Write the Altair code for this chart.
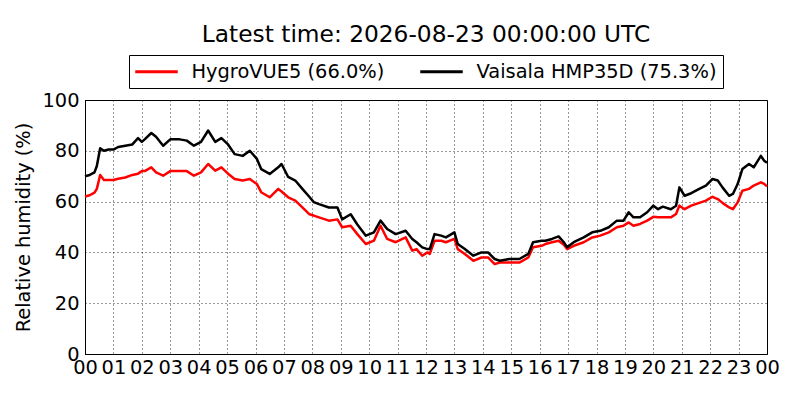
import altair as alt
import pandas as pd

# Time of each reading (UTC, HH:MM; 24:00 = end of day)
times = [
    "00:00", "00:10", "00:20", "00:25", "00:32", "00:40", "00:50", "01:00", "01:10", "01:25",
    "01:40", "01:52", "02:00", "02:06", "02:20", "02:30", "02:45", "03:00", "03:20", "03:35",
    "03:50", "04:05", "04:20", "04:35", "04:48", "05:02", "05:16", "05:33", "05:48", "06:03",
    "06:12", "06:30", "06:48", "06:55", "07:09", "07:24", "07:39", "07:54", "08:03", "08:14",
    "08:35", "08:53", "09:03", "09:21", "09:35", "09:53", "10:10", "10:24", "10:38", "10:56",
    "11:17", "11:31", "11:40", "11:52", "12:03", "12:08", "12:18", "12:32", "12:42", "13:00",
    "13:07", "13:22", "13:40", "13:57", "14:11", "14:25", "14:36", "14:56", "15:17", "15:36",
    "15:46", "16:04", "16:12", "16:26", "16:40", "16:51", "16:58", "17:12", "17:33", "17:51",
    "18:08", "18:26", "18:43", "18:57", "19:08", "19:18", "19:32", "19:47", "20:00", "20:10",
    "20:20", "20:37", "20:48", "20:55", "21:06", "21:20", "21:37", "21:51", "22:05", "22:16",
    "22:26", "22:40", "22:48", "22:58", "23:08", "23:22", "23:32", "23:47", "23:54", "24:00",
]

# Vaisala HMP35D relative humidity (%)
vaisala = [
    70.0, 70.5, 71.5, 74.0, 81.0, 80.0, 80.5, 80.5, 81.5, 82.0,
    82.5, 85.0, 83.5, 84.5, 87.0, 85.5, 82.0, 84.5, 84.5, 84.0,
    82.0, 83.5, 88.0, 83.5, 85.0, 82.5, 78.7, 78.0, 80.0, 76.8,
    72.8, 70.9, 73.5, 74.8, 69.7, 68.3, 65.0, 61.8, 59.8, 59.0,
    57.7, 57.7, 53.0, 55.0, 51.0, 46.6, 47.9, 52.5, 49.2, 47.2,
    48.5, 45.3, 44.0, 42.0, 41.3, 41.3, 47.2, 46.6, 45.9, 47.9,
    43.3, 41.3, 38.7, 40.0, 40.0, 37.4, 36.7, 37.4, 37.4, 39.4,
    44.0, 44.6, 44.6, 45.3, 46.3, 44.0, 42.0, 44.0, 45.9, 47.9,
    48.5, 49.9, 52.5, 52.5, 55.8, 53.8, 53.8, 55.8, 58.4, 57.0,
    58.0, 57.0, 58.4, 65.6, 62.3, 63.3, 65.0, 66.3, 68.9, 68.3,
    65.6, 62.3, 63.0, 66.9, 72.8, 74.8, 73.5, 78.0, 76.1, 75.3,
]

# HygroVUE5 relative humidity (%)
hygrovue = [
    62.0, 62.5, 63.5, 65.0, 70.5, 68.5, 68.5, 68.5, 69.0, 69.5,
    70.5, 71.0, 72.0, 72.0, 73.5, 71.5, 70.2, 72.0, 72.0, 72.0,
    70.2, 71.5, 74.8, 72.2, 73.5, 71.0, 68.9, 68.3, 68.9, 66.9,
    63.7, 61.7, 65.0, 64.0, 61.7, 60.4, 57.7, 55.0, 54.5, 53.8,
    52.5, 53.0, 49.9, 50.5, 47.2, 43.3, 44.6, 50.5, 45.3, 44.0,
    45.9, 40.7, 41.3, 38.7, 40.0, 39.4, 44.6, 44.6, 44.0, 45.3,
    41.3, 39.4, 36.7, 38.0, 38.0, 35.4, 36.0, 36.0, 36.0, 38.0,
    42.0, 42.6, 43.3, 44.0, 44.6, 43.0, 41.3, 42.6, 44.0, 45.9,
    46.6, 47.9, 49.9, 50.5, 51.8, 50.5, 51.2, 52.5, 54.0, 53.8,
    53.8, 53.8, 55.1, 58.4, 57.0, 58.4, 59.5, 60.4, 61.9, 61.0,
    59.5, 57.7, 57.0, 59.7, 64.3, 65.0, 66.3, 67.6, 67.0, 66.0,
]

series_names = ["HygroVUE5 (66.0%)", "Vaisala HMP35D (75.3%)"]
series_colors = ["#ff0000", "#000000"]
hour_ticks = list(range(0, 25))
rh_ticks = [0, 20, 40, 60, 80, 100]
title_text = "Latest time: 2026-08-23 00:00:00 UTC"


def to_hours(t):
    h, m = t.split(":")
    return int(h) + int(m) / 60.0


rows = []
for name, vals in zip(series_names, [hygrovue, vaisala]):
    for t, v in zip(times, vals):
        rows.append({"hour": to_hours(t), "rh": v, "series": name})
df = pd.DataFrame(rows)

FONT = "DejaVu Sans"
FS = 19.4

chart = (
    alt.Chart(df)
    .mark_line(strokeWidth=2.5, strokeJoin="round")
    .encode(
        x=alt.X(
            "hour:Q",
            scale=alt.Scale(domain=[0, 24], nice=False, zero=False),
            axis=alt.Axis(
                values=hour_ticks,
                title=None,
                labelExpr="(datum.value % 24 < 10 ? '0' : '') + (datum.value % 24)",
                labelOverlap=False,
                labelFlush=False,
                labelPadding=4,
            ),
        ),
        y=alt.Y(
            "rh:Q",
            scale=alt.Scale(domain=[0, 100], nice=False),
            axis=alt.Axis(
                values=rh_ticks,
                title="Relative humidity (%)",
                labelPadding=6,
                titlePadding=8,
            ),
        ),
        color=alt.Color(
            "series:N",
            scale=alt.Scale(domain=series_names, range=series_colors),
            legend=alt.Legend(
                title=None,
                orient="none",
                legendX=44,
                legendY=-45,
                direction="horizontal",
                columns=2,
                symbolType="M-2.5,0H2.5",
                symbolSize=289,
                symbolStrokeWidth=3,
                symbolOffset=11,
                labelOffset=25,
                columnPadding=29,
                padding=6.5,
                labelFontSize=FS,
                labelFont=FONT,
                labelColor="black",
                labelLimit=400,
                strokeColor="black",
                fillColor="white",
            ),
        ),
    )
    .properties(
        width=682,
        height=254,
        padding={"left": 5, "top": 15, "right": 5, "bottom": 5},
        title=alt.TitleParams(
            text=title_text,
            fontSize=23.3,
            font=FONT,
            fontWeight="normal",
            color="black",
            anchor="middle",
            offset=7,
        ),
    )
    .configure(background="white")
    .configure_view(stroke="black", strokeWidth=1)
    .configure_axis(
        domain=True,
        domainColor="black",
        ticks=False,
        grid=True,
        gridColor="black",
        gridDash=[1, 3],
        gridOpacity=0.8,
        gridWidth=1,
        labelFont=FONT,
        labelFontSize=FS,
        labelColor="black",
        titleFont=FONT,
        titleFontSize=FS,
        titleFontWeight="normal",
        titleColor="black",
    )
)

chart.save("out.html", embed_options={"renderer": "svg", "actions": False})
